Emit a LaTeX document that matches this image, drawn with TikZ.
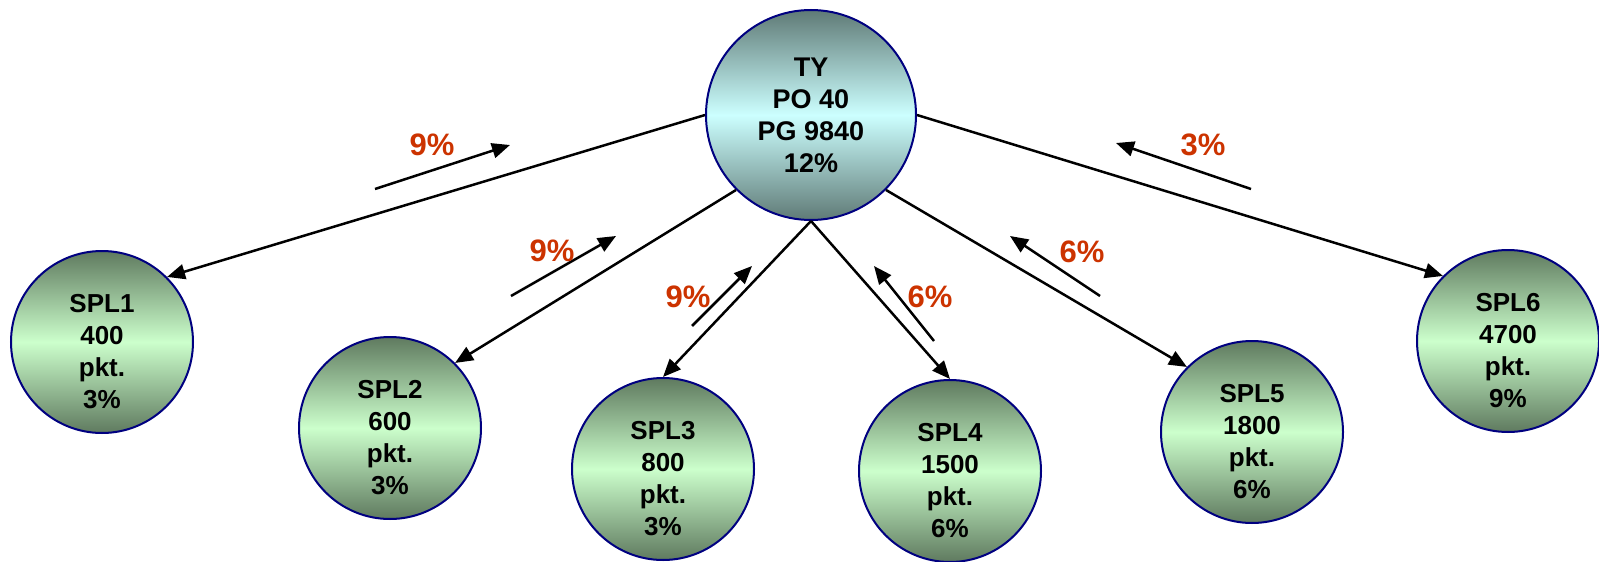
\documentclass[tikz,border=0pt]{standalone}
\usepackage{fontspec}
\setmainfont{Liberation Sans}
\usetikzlibrary{arrows.meta}

\definecolor{rim}{RGB}{0,0,128}
\definecolor{tydark}{RGB}{95,122,118}
\definecolor{tylight}{RGB}{204,255,255}
\definecolor{spdark}{RGB}{95,122,95}
\definecolor{splight}{RGB}{204,255,204}
\definecolor{pctred}{RGB}{204,51,0}

\tikzset{
  ball/.style={circle, draw=rim, line width=2pt, inner sep=0pt},
  hub/.style={ball, minimum size=210pt, top color=tydark, bottom color=tydark, middle color=tylight},
  leaf/.style={ball, minimum size=182pt, top color=spdark, bottom color=spdark, middle color=splight},
  txt/.style={align=center, font=\fontsize{26}{32}\selectfont\bfseries},
  pct/.style={text=pctred, font=\fontsize{31}{36}\selectfont\bfseries},
  link/.style={-{Triangle[length=18pt,width=15pt]}, line width=2.5pt}
}

\begin{document}
\begin{tikzpicture}[x=1pt, y=-1pt]
  \useasboundingbox (0,0) rectangle (1599,562);

  % central node
  \node[hub, txt, font=\fontsize{27}{32}\selectfont\bfseries] (ty) at (811,115) {TY\\PO 40\\PG 9840\\12\%};

  % outlets and their links
  \foreach \n/\x/\y/\pkt/\pc/\from/\to in {
      1/102/342/400/3/west/north east,
      2/390/428/600/3/south west/north east,
      3/663/469/800/3/south/north,
      4/950/471/1500/6/south/north,
      5/1252/432/1800/6/south east/north west,
      6/1508/341/4700/9/east/north west} {
      \node[leaf] (s\n) at (\x,\y) {};
      \node[txt] (t\n) at (\x,\y+10) {SPL\n\\\pkt\\pkt.\\\pc\%};
      \draw[link] (ty.\from) -- (s\n.\to);
  }

  % return shares
  \foreach \i/\sx/\sy/\ex/\ey/\lx/\ly/\pc in {
      1/375/189/510/145/432/145/9,
      2/511/296/616/236/552/251/9,
      3/692/326/752/266/688/297/9,
      4/934/341/874/266/930/297/6,
      5/1100/296/1010/236/1082/252/6,
      6/1251/189/1116/143/1203/145/3} {
      \coordinate (b\i) at (\sx,\sy);
      \coordinate (e\i) at (\ex,\ey);
      \draw[link] (b\i) -- (e\i);
      \node[pct] (p\i) at (\lx,\ly) {\pc\%};
  }
\end{tikzpicture}
\end{document}
